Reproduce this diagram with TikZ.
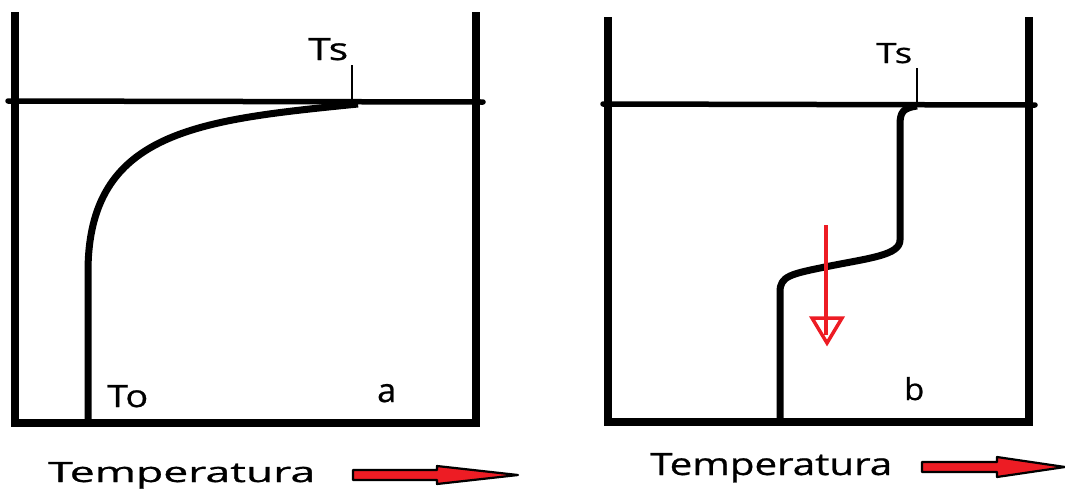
\documentclass[tikz,border=0pt]{standalone}
\usepackage{graphicx}
\usepackage{fontspec}
\newfontfamily\lblfont[RawFeature={embolden=0.7}]{Open Sans}
\definecolor{arrred}{HTML}{ED1C24}
\tikzset{
  wall/.style={line width=8pt, line join=miter, line cap=butt},
  surface/.style={line width=5.5pt, line cap=round},
  profile/.style={line width=7pt, line join=round},
  tick/.style={line width=1.2pt},
  lbl/.style={inner sep=0pt, anchor=base west, font=\lblfont},
  bigarrow/.style={fill=arrred, draw=black, line width=2.2pt, line join=round},
  downarrow/.style={draw=arrred, line width=3.5pt}
}
\begin{document}
\begin{tikzpicture}[x=1pt, y=-1pt]
\useasboundingbox (0,0) rectangle (1065,491);
% ---------- container a ----------
\draw[wall] (15,12) -- (15,423) -- (476,423) -- (476,12);
\draw[surface] (8,101) -- (483,102);
\draw[profile] (358,104) .. controls (200,120) and (88,130) .. (88,272) -- (88,425);
\node[lbl] (tsa) at (308,60) {\resizebox{40pt}{22pt}{T\kern-0.5pt s}};
\coordinate (tsatop) at (352,65);
\coordinate (tsabot) at (352,101);
\draw[tick] (tsatop) -- (tsabot);
\node[lbl] (toa) at (107,407) {\resizebox{41pt}{22pt}{To}};
\node[lbl] (la) at (377,402) {\resizebox{19pt}{18pt}{a}};
\node[lbl] (tempa) at (48,482) {\resizebox{267pt}{20pt}{Temperatura}};
\draw[bigarrow] (353,470) -- (437,470) -- (437,466) -- (518,475) -- (437,484) -- (437,480) -- (353,480) -- cycle;
% ---------- container b ----------
\draw[wall] (608,17) -- (608,422) -- (1029,422) -- (1029,17);
\draw[surface] (603,104) -- (1035,105);
\draw[profile] (917,106) .. controls (903,108) and (900,112) .. (900,125) -- (900,240)
  .. controls (900,255) and (870,258) .. (830,266)
  .. controls (790,274) and (780,276) .. (780,292) -- (780,424);
\node[lbl] (tsb) at (876,63) {\resizebox{36pt}{20pt}{T\kern-0.5pt s}};
\coordinate (tsbtop) at (917,68);
\coordinate (tsbbot) at (917,104);
\draw[tick] (tsbtop) -- (tsbbot);
\node[lbl] (lb) at (904,400) {\resizebox{20pt}{23pt}{b}};
\node[lbl] (tempb) at (650,475) {\resizebox{242pt}{22pt}{Temperatura}};
\draw[bigarrow] (922,462) -- (997,462) -- (997,457) -- (1065,467) -- (997,477) -- (997,472) -- (922,472) -- cycle;
% red downward arrow
\coordinate (dtop) at (826,225);
\coordinate (dbot) at (826,335);
\draw[downarrow] (dtop) -- (dbot);
\draw[downarrow, line join=miter] (812,318) -- (842,318) -- (827,343) -- cycle;
\end{tikzpicture}
\end{document}
